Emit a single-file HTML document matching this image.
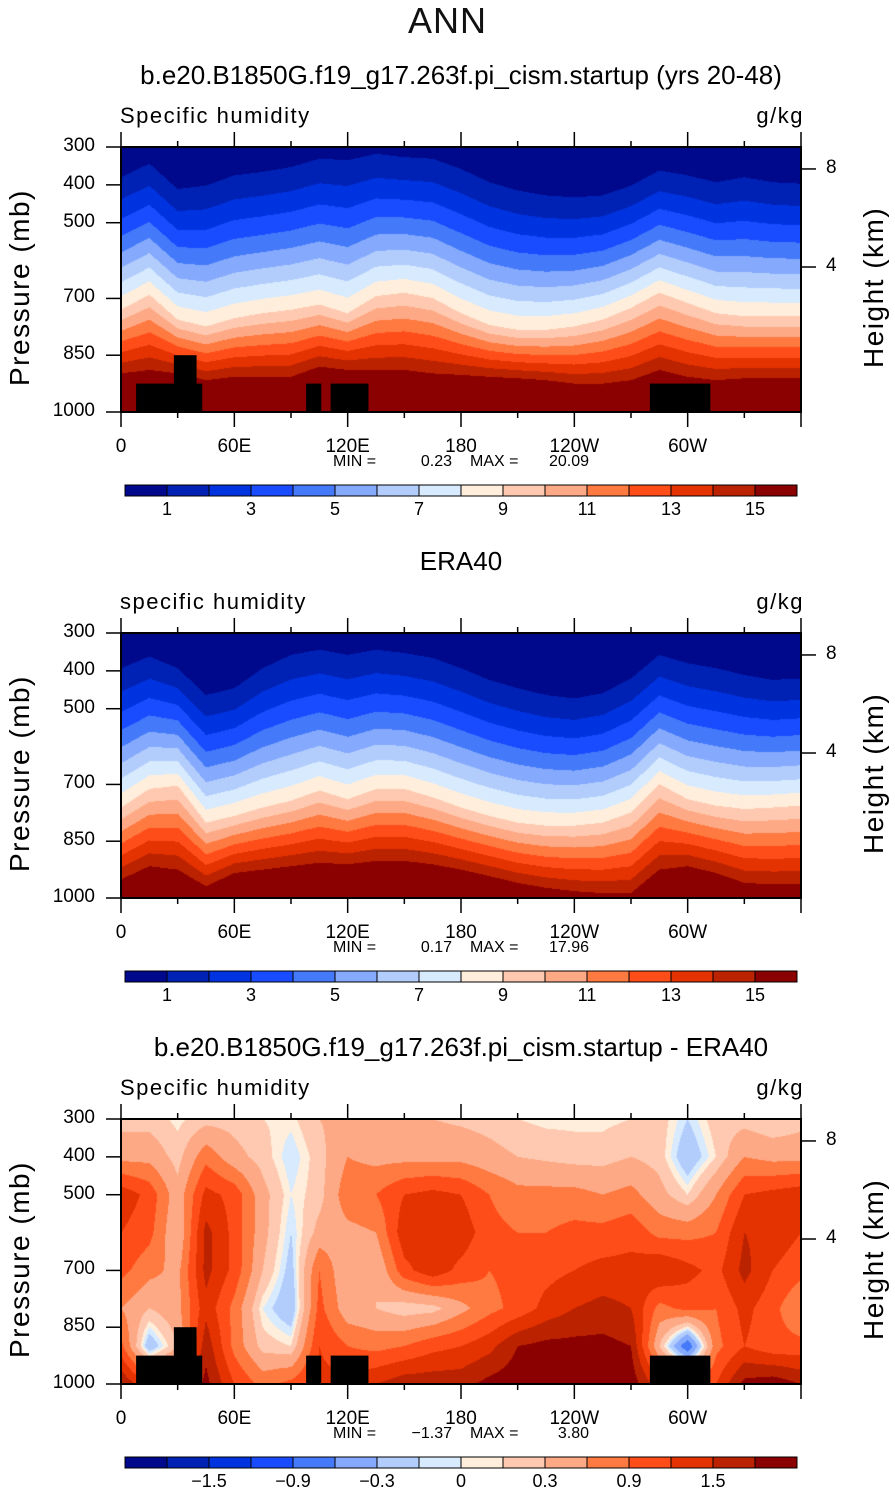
<!DOCTYPE html>
<html><head><meta charset="utf-8">
<style>
body{margin:0;background:#fff;width:895px;height:1493px;position:relative;overflow:hidden;font-family:"Liberation Sans",sans-serif;color:#000}
.t{position:absolute;white-space:nowrap}
canvas{position:absolute}
svg{position:absolute;left:0;top:0}
</style></head><body>
<div class="t" style="left:0;width:895px;text-align:center;top:0;font-size:36px;font-weight:300;color:#111;letter-spacing:1px">ANN</div>
<div id="root"></div>
<svg id="axes" width="895" height="1493"></svg>
<script>
// ---------- data ----------
const lons = [0,15,30,45,60,75,90,105,120,135,150,165,180,195,210,225,240,255,270,285,300,315,330,345,360];
// panel 1 (model): pressure (mb) of the q=1, q=9 and q=15 g/kg contours
const model_p1 = [380,344,411,402,375,366,353,331,335,318,327,331,358,393,415,428,433,428,402,362,375,393,380,393,397];
const model_p9 = [730,690,756,774,752,739,730,716,739,694,685,699,739,770,783,783,774,756,725,685,712,739,747,747,747];
const model_p15 = [898,889,898,916,907,907,907,880,889,889,889,898,902,907,911,916,925,925,916,889,907,916,911,911,911];
// panel 2 (ERA40)
const era_p1 = [393,362,393,464,446,393,358,344,358,344,353,366,393,424,446,464,473,459,420,358,380,393,411,424,420];
const era_p9 = [761,712,703,801,783,761,743,716,739,712,712,734,761,783,801,809,809,801,774,699,739,756,765,761,756];
const era_p15 = [951,916,925,969,934,925,916,907,911,902,902,911,925,942,960,973,982,987,987,925,916,934,960,964,964];
// panel 3 (difference) grid: rows = pressure levels, cols = lons
const diffP = [300,400,500,600,700,800,900,1000];
const diff = [
 [0.2,0.2,0.05,0.2,0.2,0.1,0.05,0.3,0.4,0.4,0.3,0.3,0.25,0.2,0.1,0.05,0.05,0.05,0.1,0.2,-0.1,0.2,0.2,0.1,0.2],
 [0.5,0.5,0.2,0.8,0.4,0.2,-0.1,0.2,0.6,0.5,0.5,0.5,0.5,0.4,0.3,0.25,0.2,0.2,0.3,0.2,-0.3,0.1,0.6,0.5,0.5],
 [1.4,1.1,0.4,1.3,1.1,0.4,0.0,0.2,0.8,0.9,1.2,1.3,1.2,0.9,0.7,0.7,0.7,0.6,0.7,0.4,0.1,0.6,1.2,1.3,1.4],
 [1.2,1.0,0.3,1.6,1.1,0.4,-0.1,0.4,0.5,0.6,1.4,1.4,1.4,1.0,0.9,0.9,1.0,1.0,1.1,0.8,0.8,0.9,1.5,1.4,1.2],
 [1.0,0.7,0.5,1.6,1.1,0.3,-0.2,0.9,0.3,0.3,1.1,1.4,1.1,0.9,1.0,1.1,1.2,1.3,1.3,1.5,1.3,1.1,1.6,1.2,1.0],
 [0.6,0.3,0.5,1.4,0.8,0.0,-0.3,1.0,0.4,0.3,0.15,0.2,0.5,0.8,1.0,1.3,1.5,1.6,1.5,0.8,1.0,0.9,1.3,1.0,0.6],
 [1.0,-0.3,0.3,1.7,0.8,0.2,0.1,1.2,0.9,0.8,0.9,1.1,1.2,1.4,1.8,1.9,1.9,1.9,1.8,0.3,-0.9,0.8,1.2,1.0,1.0],
 [1.8,1.2,1.2,1.9,1.2,0.8,1.0,1.3,1.3,1.5,1.7,1.7,1.7,1.9,2.0,2.0,2.0,2.0,2.0,1.3,1.1,1.2,1.9,2.0,1.8]
];
const levelsQ = [1,2,3,4,5,6,7,8,9,10,11,12,13,14,15];
const labelsQ = ["1","3","5","7","9","11","13","15"];
const levelsD = [-1.8,-1.5,-1.2,-0.9,-0.6,-0.3,-0.1,0,0.1,0.3,0.6,0.9,1.2,1.5,1.8];
const labelsD = ["\u22121.5","\u22120.9","\u22120.3","0","0.3","0.9","1.5"];
const xLabels = ["0","60E","120E","180","120W","60W"];
const xLabelLons = [0,60,120,180,240,300];
const pTicks = [300,400,500,700,850,1000];
const hTickP = [358,617];
const hTickLabels = ["8","4"];
// topography blocks: [lonStart, lonEnd, pressureTop]
const topo = [[8,43,925],[28,40,850],[98,106,925],[111,131,925],[280,312,925]];
const colors = ["#00098c","#0022b4","#0033e0","#1a4cff","#4479f9","#85a9fc","#b2ccfc","#d7eafe","#ffeedc","#fec9b0","#fea986","#ff7a40","#ff4d1a","#e43200","#bb2200","#8b0000"];

// ---------- layout ----------
const PL=121, PR=801, PW=680, PH=265, NEXP=1.4;
const panels = [
 {top:147, title:"b.e20.B1850G.f19_g17.263f.pi_cism.startup (yrs 20-48)", left:"Specific humidity", min:"0.23", max:"20.09", kind:"q", p1:model_p1, p9:model_p9, p15:model_p15, topo:true, lev:levelsQ, lab:labelsQ},
 {top:633, title:"ERA40", left:"specific humidity", min:"0.17", max:"17.96", kind:"q", p1:era_p1, p9:era_p9, p15:era_p15, topo:false, lev:levelsQ, lab:labelsQ},
 {top:1119, title:"b.e20.B1850G.f19_g17.263f.pi_cism.startup - ERA40", left:"Specific humidity", min:"\u22121.37", max:"3.80", kind:"d", topo:true, lev:levelsD, lab:labelsD}
];
const xOf = lon => PL + lon/360*PW;
const yOf = (p,top) => top + (p-300)/700*PH;
function interpLon(arr, lon){
  let i=Math.min(Math.floor(lon/15),23); const f=(lon-lons[i])/15;
  return arr[i]*(1-f)+arr[i+1]*f;
}
function idx(v,lev){let k=0;for(const l of lev) if(v>=l) k++; return k;}
const root=document.getElementById('root');
const svg=document.getElementById('axes');
const NS="http://www.w3.org/2000/svg";
function txt(s,x,y,size,anchor,name,extra){
  const d=document.createElement('div');
  d.className='t'; d.textContent=s;
  
  
  let st=`top:${y}px;font-size:${size}px;`+(extra||'');
  if(anchor==='c') st+=`left:${x-400}px;width:800px;text-align:center;`;
  else if(anchor==='r') st+=`left:${x-300}px;width:300px;text-align:right;`;
  else st+=`left:${x}px;`;
  d.style.cssText=st; root.appendChild(d); return d;
}
function line(x1,y1,x2,y2,w,name){
  const l=document.createElementNS(NS,'line');
  l.setAttribute('x1',x1);l.setAttribute('y1',y1);l.setAttribute('x2',x2);l.setAttribute('y2',y2);
  l.setAttribute('stroke','#000');l.setAttribute('stroke-width',w||1.5);
  
  
  svg.appendChild(l);
}
panels.forEach((P,pi)=>{
  const T=P.top;
  const cv=document.createElement('canvas');
  cv.width=PW; cv.height=PH;
  cv.style.left=PL+'px'; cv.style.top=T+'px';
  
  
  root.appendChild(cv);
  const ctx=cv.getContext('2d'); const img=ctx.createImageData(PW,PH);
  const rgb=colors.map(c=>[parseInt(c.substr(1,2),16),parseInt(c.substr(3,2),16),parseInt(c.substr(5,2),16)]);
  for(let x=0;x<PW;x++){
    const lon=(x+0.5)/PW*360;
    let a,pt,p9,p15;
    if(P.kind==='q'){
      const p1=interpLon(P.p1,lon); p9=interpLon(P.p9,lon); p15=interpLon(P.p15,lon);
      const r=Math.pow(9,1/NEXP);
      pt=(r*p1-p9)/(r-1); a=p1-pt;
    }
    for(let y=0;y<PH;y++){
      const p=300+(y+0.5)/PH*700;
      let v;
      if(P.kind==='q'){
        if(p<=p9){ const b=Math.max(p-pt,0)/a; v=Math.pow(b,NEXP); }
        else v=9+6*(p-p9)/(p15-p9);
      } else {
        let i=Math.min(Math.floor(lon/15),23), fx=(lon-lons[i])/15;
        let j=Math.min(Math.floor((p-300)/100),6), fy=(p-diffP[j])/100;
        v=diff[j][i]*(1-fx)*(1-fy)+diff[j][i+1]*fx*(1-fy)+diff[j+1][i]*(1-fx)*fy+diff[j+1][i+1]*fx*fy;
      }
      const c=rgb[idx(v,P.lev)]; const o=(y*PW+x)*4;
      img.data[o]=c[0];img.data[o+1]=c[1];img.data[o+2]=c[2];img.data[o+3]=255;
    }
  }
  ctx.putImageData(img,0,0);
  if(P.topo){
    topo.forEach((b,bi)=>{
      const r=document.createElementNS(NS,'rect');
      const x1=xOf(b[0]), x2=xOf(b[1]), y1=yOf(b[2],T);
      r.setAttribute('x',x1);r.setAttribute('y',y1);r.setAttribute('width',x2-x1);r.setAttribute('height',T+PH-y1);
      r.setAttribute('fill','#000');
      
      
      svg.appendChild(r);
    });
  }
  const fr=document.createElementNS(NS,'rect');
  fr.setAttribute('x',PL);fr.setAttribute('y',T);fr.setAttribute('width',PW);fr.setAttribute('height',PH);
  fr.setAttribute('fill','none');fr.setAttribute('stroke','#000');fr.setAttribute('stroke-width',2);
  
  
  svg.appendChild(fr);
  for(let lon=0;lon<=360;lon+=30){
    const len=(lon%60===0)?15:6, x=xOf(lon);
    line(x,T,x,T-len,1.5,'x-tick-top');
    line(x,T+PH,x,T+PH+len,1.5,'x-tick-bottom');
  }
  xLabels.forEach((s,i)=>txt(s,xOf(xLabelLons[i]),T+PH+24,19,'c','x-tick-label'));
  pTicks.forEach(p=>{const y=yOf(p,T); line(PL-15,y,PL,y,1.5,'y-tick'); txt(String(p),95,y-12,19,'r','y-tick-label');});
  hTickP.forEach((p,i)=>{const y=yOf(p,T); line(PR,y,PR+15,y,1.5,'height-tick'); txt(hTickLabels[i],826,y-12,19,'l','height-tick-label');});
  txt(P.title,461,T-87,26,'c','panel-title');
  txt(P.left,120,T-44,22,'l','variable-name','letter-spacing:1.5px;');
  txt('g/kg',804,T-44,22,'r','units-label','letter-spacing:1.5px;');
  txt('Pressure (mb)',4,T+PH/2+106,28,'l','y-axis-title','letter-spacing:1.5px;transform-origin:0 0;transform:rotate(-90deg);');
  txt('Height (km)',858,T+PH/2+88,28,'l','height-axis-title','letter-spacing:1.5px;transform-origin:0 0;transform:rotate(-90deg);');
  txt('MIN =',333,T+306,16,'l','min-label');
  txt(P.min,452,T+306,16,'r','min-value');
  txt('MAX =',470,T+306,16,'l','max-label');
  txt(P.max,589,T+306,16,'r','max-value');
  const cbT=T+338;
  colors.forEach((c,i)=>{
    const r=document.createElementNS(NS,'rect');
    r.setAttribute('x',125+i*42);r.setAttribute('y',cbT);r.setAttribute('width',42);r.setAttribute('height',11);
    r.setAttribute('fill',c);r.setAttribute('stroke','#000');r.setAttribute('stroke-width',1);
    
    
    svg.appendChild(r);
  });
  P.lab.forEach((s,i)=>{
    const k = P.kind==='q' ? 1+2*i : [2,4,6,8,10,12,14][i];
    txt(s,125+k*42,cbT+14,18,'c','colorbar-label');
  });
});
</script>
</body></html>
